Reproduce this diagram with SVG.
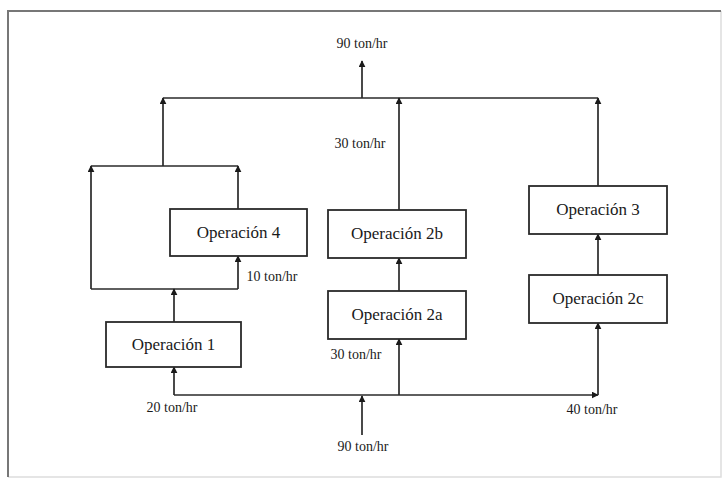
<svg xmlns="http://www.w3.org/2000/svg" width="727" height="480" viewBox="0 0 727 480">
  <style>
    .frame-dark { fill: none; stroke: #777; stroke-width: 2; }
    .frame-light { fill: none; stroke: #ddd; stroke-width: 1.5; }
    .box { fill: #fff; stroke: #2a2a2a; stroke-width: 1.8; }
    .wire { fill: none; stroke: #2a2a2a; stroke-width: 1.7; }
    text { font-family: 'Liberation Serif', 'DejaVu Serif', 'Times New Roman', serif; fill: #1a1a1a; text-anchor: middle; }
    .node-text { font-size: 17px; }
    .flow-label { font-size: 14px; }
  </style>
  <defs>
    <marker id="arrow" viewBox="0 0 10 10" refX="9" refY="5" markerWidth="7" markerHeight="7" markerUnits="userSpaceOnUse" orient="auto">
      <path d="M0,0 L10,5 L0,10 Z" fill="#1a1a1a"/>
    </marker>
  </defs>

  <rect width="727" height="480" fill="#fff"/>

  <!-- page frame -->
  <g id="frame">
    <path class="frame-light" d="M721,11 V477 H8"/>
    <path class="frame-dark" d="M8,477 V11 H721"/>
  </g>

  <!-- flow connectors -->
  <g id="connectors">
    <!-- collector header and product stream -->
    <line class="wire" x1="163" y1="98" x2="598" y2="98"/>
    <line class="wire" x1="362" y1="98" x2="362" y2="61" marker-end="url(#arrow)"/>
    <line class="wire" x1="163" y1="166" x2="163" y2="98" marker-end="url(#arrow)"/>
    <line class="wire" x1="399" y1="210" x2="399" y2="98" marker-end="url(#arrow)"/>
    <line class="wire" x1="598" y1="186" x2="598" y2="98" marker-end="url(#arrow)"/>

    <!-- left branch: Operación 1 split and Operación 4 loop -->
    <line class="wire" x1="91" y1="166" x2="238" y2="166"/>
    <line class="wire" x1="91" y1="289" x2="91" y2="166" marker-end="url(#arrow)"/>
    <line class="wire" x1="238" y1="209" x2="238" y2="166" marker-end="url(#arrow)"/>
    <line class="wire" x1="91" y1="289" x2="238" y2="289"/>
    <line class="wire" x1="238" y1="289" x2="238" y2="256" marker-end="url(#arrow)"/>
    <line class="wire" x1="174" y1="322" x2="174" y2="289" marker-end="url(#arrow)"/>

    <!-- feed distributor -->
    <line class="wire" x1="174" y1="395" x2="598" y2="395" marker-end="url(#arrow)"/>
    <line class="wire" x1="174" y1="395" x2="174" y2="367" marker-end="url(#arrow)"/>
    <line class="wire" x1="362" y1="435" x2="362" y2="396" marker-end="url(#arrow)"/>
    <line class="wire" x1="399" y1="395" x2="399" y2="339" marker-end="url(#arrow)"/>
    <line class="wire" x1="598" y1="395" x2="598" y2="323" marker-end="url(#arrow)"/>

    <!-- series links -->
    <line class="wire" x1="399" y1="291" x2="399" y2="258" marker-end="url(#arrow)"/>
    <line class="wire" x1="598" y1="275" x2="598" y2="234" marker-end="url(#arrow)"/>
  </g>

  <!-- operations -->
  <g id="op4">
    <rect class="box" x="170" y="209" width="137" height="47"/>
    <text class="node-text" x="238.5" y="238">Operación 4</text>
  </g>
  <g id="op1">
    <rect class="box" x="106" y="322" width="135" height="45"/>
    <text class="node-text" x="173.5" y="350">Operación 1</text>
  </g>
  <g id="op2b">
    <rect class="box" x="328" y="210" width="138" height="48"/>
    <text class="node-text" x="397" y="239">Operación 2b</text>
  </g>
  <g id="op2a">
    <rect class="box" x="328" y="291" width="138" height="48"/>
    <text class="node-text" x="397" y="320">Operación 2a</text>
  </g>
  <g id="op3">
    <rect class="box" x="529" y="186" width="138" height="48"/>
    <text class="node-text" x="598" y="215">Operación 3</text>
  </g>
  <g id="op2c">
    <rect class="box" x="529" y="275" width="138" height="48"/>
    <text class="node-text" x="598" y="304">Operación 2c</text>
  </g>

  <!-- stream rates -->
  <g id="labels">
    <text class="flow-label" x="362" y="48">90 ton/hr</text>
    <text class="flow-label" x="360" y="148">30 ton/hr</text>
    <text class="flow-label" x="272" y="281">10 ton/hr</text>
    <text class="flow-label" x="356" y="359">30 ton/hr</text>
    <text class="flow-label" x="172" y="412">20 ton/hr</text>
    <text class="flow-label" x="592" y="414">40 ton/hr</text>
    <text class="flow-label" x="363" y="451">90 ton/hr</text>
  </g>
</svg>
